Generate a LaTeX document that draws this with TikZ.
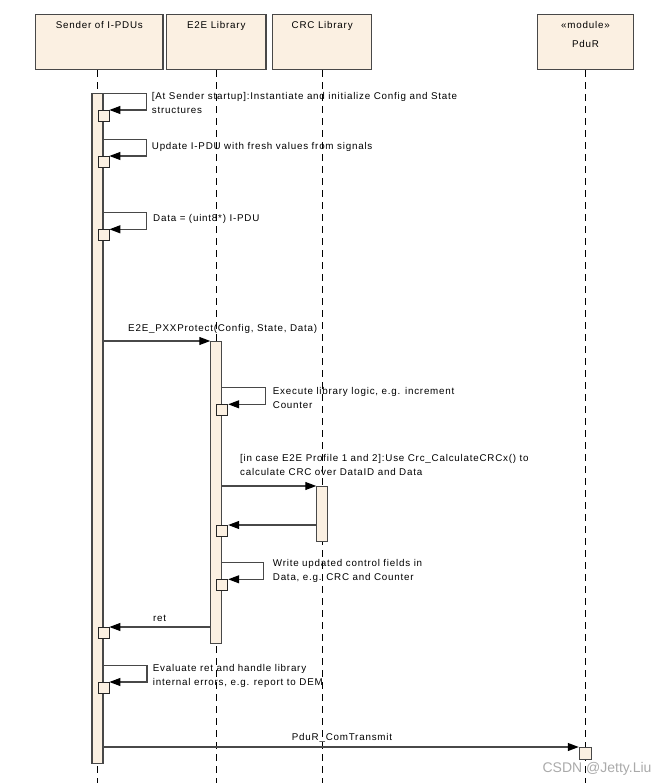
\documentclass[tikz,border=0pt]{standalone}
\usepackage{fontspec}
\setmainfont{Liberation Sans}
\newfontfamily\umlfont{Liberation Sans}[LetterSpace=8]
\usepackage{tikz}
\usetikzlibrary{arrows.meta, calc}
\usetikzlibrary{positioning}
\definecolor{boxfill}{RGB}{251,240,226}
\definecolor{linegray}{RGB}{72,72,72}
\definecolor{markgray}{RGB}{170,170,170}

\tikzset{
  umltext/.style={font=\umlfont\fontsize{9.8}{14}\selectfont},
  head/.style={umltext, draw=linegray, fill=boxfill, line width=1.1pt, anchor=north, inner xsep=0pt, inner ysep=3pt, text height=10.5pt, text depth=38.5pt, align=center},
  actbar/.style={draw=linegray, fill=boxfill, line width=1.1pt, anchor=north, minimum width=11pt, inner sep=0pt},
  nest/.style={draw=black!85, fill=boxfill, line width=0.9pt, anchor=north west, minimum size=11pt, inner sep=0pt},
  msg/.style={draw=linegray, line width=1.1pt, -{Triangle[length=11pt,width=8pt,color=black]}},
  lifeline/.style={draw=black, line width=0.9pt, dash pattern=on 7pt off 5pt},
  note/.style={umltext, anchor=base west, align=left, inner sep=0pt},
}

\begin{document}
\begin{tikzpicture}[x=1pt, y=-1pt]
    \useasboundingbox (0,0) rectangle (662,783);
    % ライフライン
    \node[head, minimum width=127.3pt] (sender) at (99.3,14) {Sender of I-PDUs};
    \node[head, minimum width=99.3pt] (e2e) at (216.3,14) {E2E Library};
    \node[head, minimum width=99pt] (crc) at (322.2,14) {CRC Library};
    \node[head, minimum width=95.7pt, text height=29.5pt, text depth=19.5pt] (pdur) at (585.5,14) {«module»\\[5pt]PduR};
    \coordinate (sEnd) at (97.5,783);
    \coordinate (eEnd) at (216.3,783);
    \coordinate (cEnd) at (322.3,783);
    \coordinate (pEnd) at (585.3,783);
    \draw[lifeline] (sender.south -| sEnd) -- (sEnd); %送信側
    \draw[lifeline] (e2e.south -| eEnd) -- (eEnd); %E2E
    \draw[lifeline] (crc.south -| cEnd) -- (cEnd); %CRC
    \draw[lifeline] (pdur.south -| pEnd) -- (pEnd); %PduR

    % 実行区間
    \node[actbar, minimum height=670pt] (sbar) at (97.5,93) {};
    \node[actbar, minimum height=302pt] (ebar) at (216.3,341) {};
    \node[actbar, minimum height=55pt] (cbar) at (322.3,486) {};
    \node[actbar, minimum width=12pt, minimum height=12pt] (pbox) at (585.3,747) {};

    % 入れ子の区間
    \node[nest] (n1) at (97.5,110) {};
    \node[nest] (n2) at (97.5,156) {};
    \node[nest] (n3) at (97.5,229.3) {};
    \node[nest] (n4) at (216.3,404.3) {};
    \node[nest] (n5) at (216.3,525) {};
    \node[nest] (n6) at (216.3,579.3) {};
    \node[nest] (n7) at (97.5,627) {};
    \node[nest] (n8) at (97.5,682) {};

    % メッセージ
    \draw[msg] ([shift={(5.5,-16.5)}]n1.north west) -- ++(43.5,0) |- (n1.north east);
    \draw[msg] ([shift={(5.5,-16.5)}]n2.north west) -- ++(43.5,0) |- (n2.north east);
    \draw[msg] ([shift={(5.5,-16.5)}]n3.north west) -- ++(43.5,0) |- (n3.north east);
    \draw[msg] (sbar.east |- ebar.north) -- (ebar.north west);
    \draw[msg] ([shift={(5.5,-16.5)}]n4.north west) -- ++(44,0) |- (n4.north east);
    \draw[msg] (ebar.east |- cbar.north) -- (cbar.north west);
    \draw[msg] (cbar.west |- n5.north) -- (n5.north east);
    \draw[msg] ([shift={(5.5,-16.5)}]n6.north west) -- ++(41.5,0) |- (n6.north east);
    \draw[msg] (ebar.west |- n7.north) -- (n7.north east); %ret
    \draw[msg] ([shift={(5.5,-16.5)}]n8.north west) -- ++(44,0) |- (n8.north east);
    \draw[msg] (sbar.east |- pbox.north) -- (pbox.north west);

    % ラベル (2行のものは下の行の基線に置く)
    \node[note] (tInit) at (151.7,113.5) {[At Sender startup]:Instantiate and initialize Config and State\\structures};
    \node[note] (tUpdate) at (151.7,149.5) {Update I-PDU with fresh values from signals};
    \node[note] (tData) at (153,221.5) {Data = (uint8*) I-PDU};
    \node[note] (tProtect) at (128,331.5) {E2E\_PXXProtect(Config, State, Data)};
    \node[note] (tExec) at (272.7,408.5) {Execute library logic, e.g. increment\\Counter};
    \node[note] (tCrc) at (240,475) {[in case E2E Profile 1 and 2]:Use Crc\_CalculateCRCx() to\\calculate CRC over DataID and Data};
    \node[note] (tWrite) at (272.7,580.5) {Write updated control fields in\\Data, e.g. CRC and Counter};
    \node[note] (tRet) at (153,621.5) {ret};
    \node[note] (tEval) at (152.7,685.5) {Evaluate ret and handle library\\internal errors, e.g. report to DEM};
    \node[note, anchor=base] (tTransmit) at (342,740.5) {PduR\_ComTransmit};
    \node[anchor=base, text=markgray, font=\fontsize{14}{16}\selectfont, inner sep=0pt] (mark) at (597,772) {CSDN @Jetty.Liu};
\end{tikzpicture}
\end{document}
